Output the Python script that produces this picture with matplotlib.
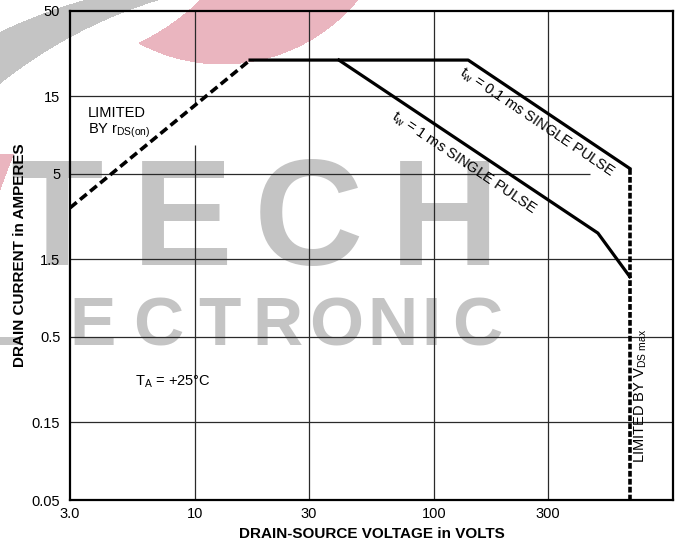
import matplotlib.pyplot as plt
import numpy as np

plt.rcParams['font.family'] = ['Liberation Sans', 'DejaVu Sans']
plt.rcParams['mathtext.fontset'] = 'custom'
plt.rcParams['mathtext.rm'] = 'Liberation Sans'

# Safe operating area data
rds_volts = [3.0, 17]
rds_amps = [3.1, 25]

pulse01_volts = [17, 139, 660]
pulse01_amps = [25, 25, 5.4]

pulse1_volts = [40, 485, 660]
pulse1_amps = [25, 2.17, 1.17]

vds_volts = [660, 660]
vds_amps = [5.4, 0.05]

x_ticks = [3, 10, 30, 100, 300]
x_labels = ["3.0", "10", "30", "100", "300"]
y_ticks = [0.05, 0.15, 0.5, 1.5, 5, 15, 50]
y_labels = ["0.05", "0.15", "0.5", "1.5", "5", "15", "50"]

W, H = 682, 544
fig = plt.figure(figsize=(W / 100, H / 100), dpi=100)

# background watermark (swooshes + lettering), in image pixels
yy, xx = np.mgrid[0:H, 0:W] + 0.5
gray = ((xx - 240) ** 2 + (yy - 540) ** 2 < 562 ** 2) & ((xx - 300) ** 2 + (yy - 460) ** 2 > 481 ** 2)
pink = ((xx - 222) ** 2 + (yy + 112) ** 2 < 176.5 ** 2) & ((xx - 40) ** 2 + (yy + 164) ** 2 > 229 ** 2)
pink |= (yy > 154) & (yy < 190) & (xx < 14 - (yy - 154) * 0.38)
img = np.zeros((H, W, 4))
img[gray] = (0.77, 0.77, 0.77, 1)
img[pink] = (0.92, 0.71, 0.75, 1)
fig.figimage(img, xo=0, yo=0, origin='upper', zorder=-2)

wm = '#C4C4C4'
for ch, px in [("T", 57), ("E", 182), ("C", 308), ("H", 444)]:
    fig.text(px / W, 1 - 265 / H, ch, color=wm, fontsize=109, fontweight='bold',
             ha='center', va='baseline', zorder=-1)
for ch, px in [("L", 2), ("E", 93), ("C", 158), ("T", 219), ("R", 277),
               ("O", 336), ("N", 392), ("I", 431), ("C", 477)]:
    fig.text(px / W, 1 - 345 / H, ch, color=wm, fontsize=50, fontweight='bold',
             ha='center', va='baseline', zorder=-1)

ax = fig.add_axes([70 / W, 44 / H, 603 / W, 489 / H])
ax.set_facecolor('none')
ax.set_xscale('log')
ax.set_yscale('log')
ax.set_xlim(3, 1000)
ax.set_ylim(0.05, 50)

# grid lines
gc, gw = '#2a2a2a', 0.9
ax.vlines([10, 10], [0.05, 13.6], [7.5, 50], color=gc, lw=gw)
for v in [30, 100, 300]:
    ax.axvline(v, color=gc, lw=gw)
for i in [0.15, 0.5, 1.5, 15]:
    ax.axhline(i, color=gc, lw=gw)
ax.hlines(5, 3, 450, color=gc, lw=gw)

# curves
ax.plot(rds_volts, rds_amps, color='black', lw=2.6, dashes=(2.4, 1.2), solid_capstyle='butt')
ax.plot(pulse01_volts, pulse01_amps, color='black', lw=2.3)
ax.plot(pulse1_volts, pulse1_amps, color='black', lw=2.3)
ax.plot(vds_volts, vds_amps, color='black', lw=2.6, dashes=(1.6, 0.6))

fs = 10.5
ax.text(3.57, 11.9, "LIMITED", fontsize=fs, ha='left', va='center')
ax.text(3.57, 9.2, r"BY r$_\mathregular{DS(on)}$", fontsize=fs, ha='left', va='center')
ax.text(5.6, 0.265, r"T$_\mathregular{A}$ = +25°C", fontsize=fs, ha='left', va='center')
ax.text(270, 10.3, r"t$_\mathregular{w}$ = 0.1 ms SINGLE PULSE", fontsize=fs,
        rotation=-34, ha='center', va='center')
ax.text(133, 5.84, r"t$_\mathregular{w}$ = 1 ms SINGLE PULSE", fontsize=fs,
        rotation=-34, ha='center', va='center')
ax.text(735, 0.0843, r"LIMITED BY V$_\mathregular{DS\ max}$", fontsize=fs,
        rotation=90, ha='center', va='bottom')

ax.set_xticks(x_ticks)
ax.set_xticklabels(x_labels)
ax.set_yticks(y_ticks)
ax.set_yticklabels(y_labels)
ax.minorticks_off()
ax.tick_params(length=0, labelsize=fs)
ax.tick_params(axis='x', pad=5)
ax.tick_params(axis='y', pad=7)

for s in ax.spines.values():
    s.set_linewidth(1.6)
    s.set_color('black')

ax.set_xlabel("DRAIN-SOURCE VOLTAGE in VOLTS", fontsize=11, fontweight='bold')
ax.set_ylabel("DRAIN CURRENT in AMPERES", fontsize=11, fontweight='bold')
ax.xaxis.set_label_coords(0.5, -0.055)
ax.yaxis.set_label_coords(-0.071, 0.5)

fig.savefig("out.png", dpi=100)
